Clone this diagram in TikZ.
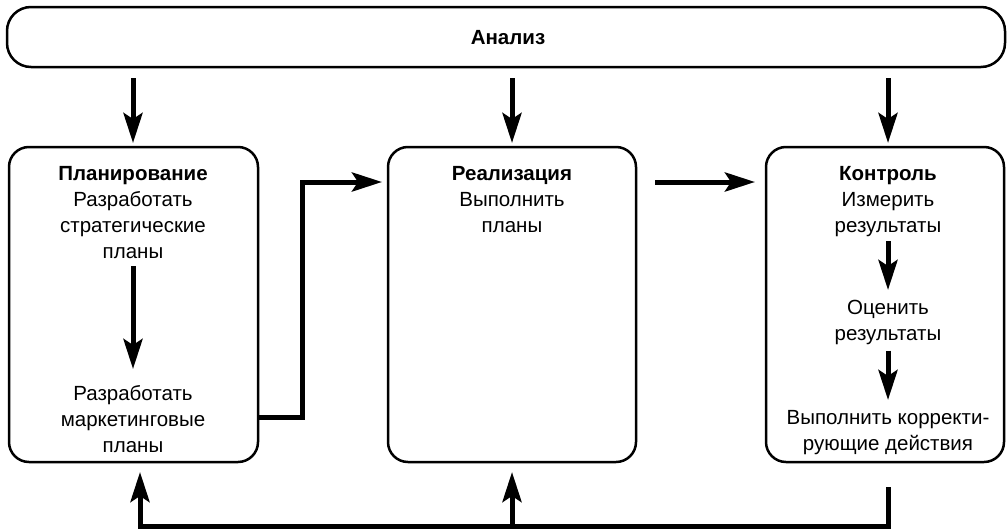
\documentclass[tikz,border=0pt]{standalone}
\usepackage{fontspec}
\setmainfont{Liberation Sans}
\usetikzlibrary{arrows.meta,calc}
\begin{document}
\begin{tikzpicture}[x=1pt,y=-1pt,
  box/.style={draw,line width=2.5pt,rounded corners=20pt,inner sep=0pt,outer sep=0pt},
  txt/.style={align=center,inner sep=0pt,outer sep=0pt,anchor=north,font=\fontsize{20.5}{26}\selectfont},
  arr/.style={line width=5pt,line join=miter,-{Stealth[length=30pt,width=19pt,inset=6pt]}}]
\useasboundingbox (0,0) rectangle (1008,530);
% boxes
\node[box,rounded corners=24pt,minimum width=998pt,minimum height=60pt] (anal) at (506,37) {};
\node[font=\fontsize{20.5}{26}\selectfont\bfseries] (analt) at (508,38) {Анализ};
\node[box,minimum width=249pt,minimum height=315pt] (plan) at (133.5,304.5) {};
\node[box,minimum width=248pt,minimum height=315pt] (real) at (512,304.5) {};
\node[box,minimum width=238pt,minimum height=315pt] (ctrl) at (885,304.5) {};
% texts
\node[txt] (plan1) at (133,166) {\textbf{Планирование}\\Разработать\\стратегические\\планы};
\node[txt] (plan2) at (133,385) {Разработать\\маркетинговые\\планы};
\node[txt] (real1) at (512,166) {\textbf{Реализация}\\Выполнить\\планы};
\node[txt] (ctrl1) at (888,166) {\textbf{Контроль}\\Измерить\\результаты};
\node[txt] (ctrl2) at (888,300) {Оценить\\результаты};
\node[txt] (ctrl3) at (888,410) {Выполнить корректи-\\рующие действия};
% helper coordinates
\coordinate (rowA) at (0,182);
\coordinate (rowB) at (0,417);
\coordinate (elb) at (302,0);
\coordinate (fbR) at (888,526);
\coordinate (fbL) at (140,526);
\coordinate (fbM) at (512,526);
% arrows from analysis
\draw[arr,shorten <=11pt,shorten >=4pt] (anal.south -| plan1.north) -- (plan.north -| plan1.north);
\draw[arr,shorten <=11pt,shorten >=4pt] (anal.south -| real1.north) -- (real.north -| real1.north);
\draw[arr,shorten <=11pt,shorten >=4pt] (anal.south -| ctrl1.north) -- (ctrl.north -| ctrl1.north);
% inner arrows
\draw[arr,shorten <=8pt,shorten >=16pt] (plan1.south) -- (plan2.north);
\draw[arr,shorten <=5pt,shorten >=10pt] (ctrl1.south) -- (ctrl2.north);
\draw[arr,shorten <=6pt,shorten >=10pt] (ctrl2.south) -- (ctrl3.north);
% between boxes
\draw[arr,shorten >=6pt] (plan.east |- rowB) -- (elb |- rowB) -- (elb |- rowA) -- (real.west |- rowA);
\draw[arr,shorten <=19pt,shorten >=11pt] (real.east |- rowA) -- (ctrl.west |- rowA);
% feedback
\draw[arr,shorten <=25pt,shorten >=10pt] (ctrl.south -| fbR) -- (fbR) -- (fbL) -- (plan.south -| fbL);
\draw[arr,shorten >=10pt] (fbM) -- (real.south -| fbM);
\end{tikzpicture}
\end{document}
